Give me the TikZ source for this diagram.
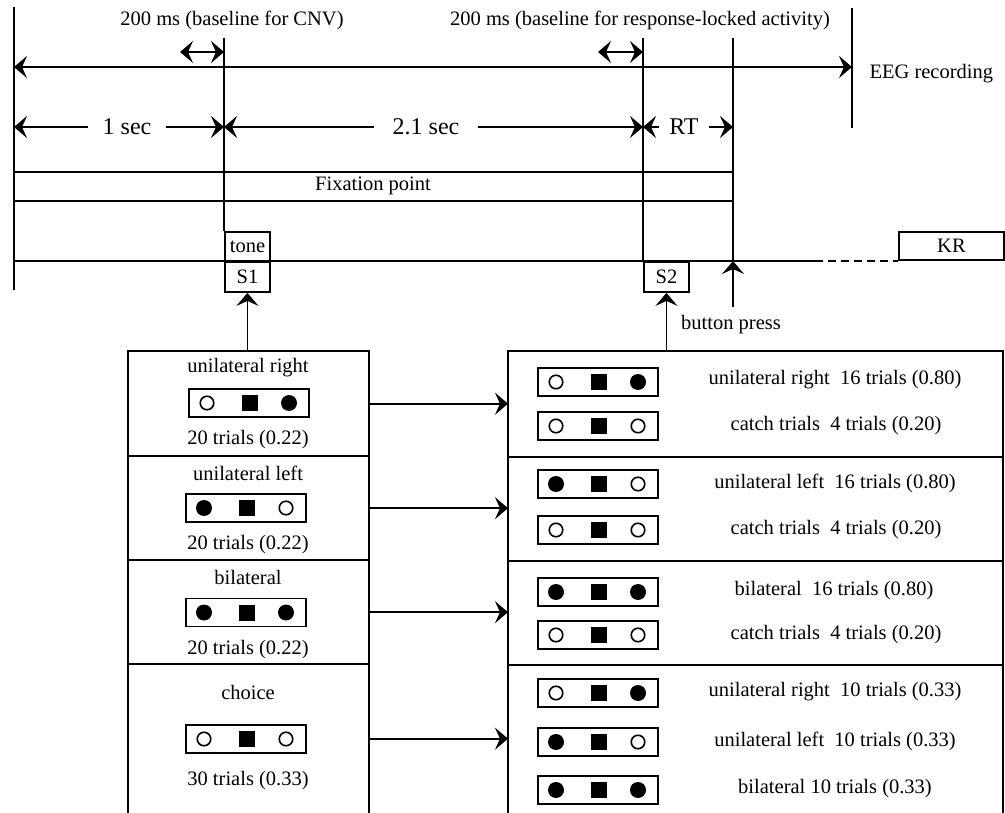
\documentclass[tikz,border=0pt]{standalone}
\usepackage{fontspec}
\setmainfont{Liberation Serif}
\usetikzlibrary{arrows.meta}
\newcommand\stimbox[4]{%
  \node[stim] (#1) at (#2) {};
  \node[#3] (#1-l) at ([xshift=-42pt]#1.center) {};
  \node[sqr] (#1-m) at ([xshift=1pt]#1.center) {};
  \node[#4] (#1-r) at ([xshift=40pt]#1.center) {};}
\begin{document}
\begin{tikzpicture}[x=1pt,y=-1pt,
  every node/.style={font=\fontsize{20.5}{24}\selectfont},
  ln/.style={line width=1.9pt},
  >={Stealth[length=13pt,width=22pt,inset=5pt]},
  tlab/.style={font=\fontsize{24}{28}\selectfont, inner ysep=0pt},
  sbox/.style={draw, ln, minimum width=45pt, minimum height=30pt, inner sep=0pt},
  sec/.style={rectangle, inner sep=0pt, anchor=north west},
  stim/.style={draw, ln, minimum width=120pt, minimum height=28pt, inner sep=0pt},
  op/.style={circle, draw, line width=1.6pt, minimum size=13.5pt, inner sep=0pt},
  fp/.style={circle, fill, minimum size=16pt, inner sep=0pt},
  sqr/.style={rectangle, fill, minimum size=16pt, inner sep=0pt}]
\useasboundingbox (0,0) rectangle (1005,813);

% ---------- time line part ----------
\coordinate (Ltop) at (14,7);   \coordinate (Lbot) at (14,290);
\coordinate (S1top) at (224,38);
\coordinate (S2top) at (643,38);
\coordinate (Rtop) at (733,38); \coordinate (Rbot) at (733,307);
\coordinate (Rline) at (733,261);
\coordinate (Etop) at (852,8);  \coordinate (Ebot) at (852,128);

\draw[ln] (Ltop) -- (Lbot);
\draw[ln] (Etop) -- (Ebot);

\node[sbox, anchor=north west] (tone) at (224,231) {tone};
\node[sbox, anchor=north west] (S1) at (224,261) {S1};
\node[sbox, anchor=north west] (S2) at (643,261) {S2};
\node[sbox, minimum width=105pt, minimum height=28pt, anchor=south west] (KR) at (898,261) {KR};

\draw[ln] (S1top) -- (tone.north west);
\draw[ln] (S2top) -- (S2.north west);
\draw[ln] (Rtop) -- (Rline);
\draw[ln,->] (Rbot) -- (Rline);
\node (bp) at (731,325) {button press};

% main line
\coordinate (Lline) at (14,261);
\coordinate (dashst) at (815,261);
\draw[ln] (Lline) -- (dashst);
\draw[ln, dash pattern=on 8pt off 5pt] (dashst) -- (KR.south west);

% EEG recording
\coordinate (eL) at (14,67); \coordinate (eR) at (852,67);
\draw[ln,<->] (eL) -- (eR);
\node[anchor=west] (eeg) at (866,74) {EEG recording};

% baselines
\coordinate (b1a) at (180,52); \coordinate (b1b) at (224,52);
\coordinate (b2a) at (598,52); \coordinate (b2b) at (643,52);
\draw[ln,<->] (b1a) -- (b1b);
\draw[ln,<->] (b2a) -- (b2b);
\node (t1) at (232,20) {200 ms (baseline for CNV)};
\node (t2) at (640,20) {200 ms (baseline for response-locked activity)};

% durations
\coordinate (dL) at (14,127);  \coordinate (dS1) at (224,127);
\coordinate (dS2) at (643,127); \coordinate (dR) at (733,127);
\node[tlab, inner xsep=14pt] (d1) at (127,127) {1 sec};
\node[tlab, inner xsep=18pt] (d2) at (426,127) {2.1 sec};
\node[tlab, inner xsep=10pt] (d3) at (684,127) {RT};
\draw[ln,<-] (dL) -- (d1);  \draw[ln,->] (d1) -- (dS1);
\draw[ln,<-] (dS1) -- (d2); \draw[ln,->] (d2) -- (dS2);
\draw[ln,<-] (dS2) -- (d3); \draw[ln,->] (d3) -- (dR);

% fixation
\coordinate (f1a) at (14,172); \coordinate (f1b) at (733,172);
\coordinate (f2a) at (14,201); \coordinate (f2b) at (733,201);
\draw[ln] (f1a) -- (f1b);
\draw[ln] (f2a) -- (f2b);
\node (fix) at (373,186) {Fixation point};

% ---------- condition boxes ----------
\node[sec, minimum width=241pt, minimum height=105pt] (L1) at (128,351) {};
\node[sec, minimum width=241pt, minimum height=104pt] (L2) at (128,456) {};
\node[sec, minimum width=241pt, minimum height=104pt] (L3) at (128,560) {};
\node[sec, minimum width=241pt, minimum height=149pt] (L4) at (128,664) {};
\node[sec, minimum width=495pt, minimum height=106pt] (R1) at (508,351) {};
\node[sec, minimum width=495pt, minimum height=104pt] (R2) at (508,457) {};
\node[sec, minimum width=495pt, minimum height=104pt] (R3) at (508,561) {};
\node[sec, minimum width=495pt, minimum height=148pt] (R4) at (508,665) {};

\draw[ln] (L4.south west) -- (L1.north west) -- (L1.north east) -- (L4.south east);
\draw[ln] (L1.south west) -- (L1.south east);
\draw[ln] (L2.south west) -- (L2.south east);
\draw[ln] (L3.south west) -- (L3.south east);
\draw[ln] (R4.south west) -- (R1.north west) -- (R1.north east) -- (R4.south east);
\draw[ln] (R1.south west) -- (R1.south east);
\draw[ln] (R2.south west) -- (R2.south east);
\draw[ln] (R3.south west) -- (R3.south east);

\draw[ln,->] (S1.south |- L1.north) -- (S1.south);
\draw[ln,->] (S2.south |- R1.north) -- (S2.south);

\draw[ln,->] (L1.east) -- (L1.east -| R1.west);
\draw[ln,->] (L2.east) -- (L2.east -| R2.west);
\draw[ln,->] (L3.east) -- (L3.east -| R3.west);
\draw[ln,->] (L4.east) -- (L4.east -| R4.west);

% left contents
\node (l1t) at (248,368) {unilateral right};
\stimbox{ls1}{249,403}{op}{fp}
\node (l1n) at (248,440) {20 trials (0.22)};
\node (l2t) at (248,473) {unilateral left};
\stimbox{ls2}{246,508}{fp}{op}
\node (l2n) at (248,545) {20 trials (0.22)};
\node (l3t) at (248,577) {bilateral};
\stimbox{ls3}{246,612.5}{fp}{fp}
\node (l3n) at (248,650) {20 trials (0.22)};
\node (l4t) at (248,692) {choice};
\stimbox{ls4}{246,739}{op}{op}
\node (l4n) at (248,781) {30 trials (0.33)};

% right contents
\stimbox{rs1a}{598,382}{op}{fp}
\node (r1a) at (835,380) {unilateral right~ 16 trials (0.80)};
\stimbox{rs1b}{598,426}{op}{op}
\node (r1b) at (836,426) {catch trials~ 4 trials (0.20)};
\stimbox{rs2a}{598,484}{fp}{op}
\node (r2a) at (835,483) {unilateral left~ 16 trials (0.80)};
\stimbox{rs2b}{598,530}{op}{op}
\node (r2b) at (836,530) {catch trials~ 4 trials (0.20)};
\stimbox{rs3a}{598,592}{fp}{fp}
\node (r3a) at (834,591) {bilateral~ 16 trials (0.80)};
\stimbox{rs3b}{598,635}{op}{op}
\node (r3b) at (836,635) {catch trials~ 4 trials (0.20)};
\stimbox{rs4a}{598,693}{op}{fp}
\node (r4a) at (835,692) {unilateral right~ 10 trials (0.33)};
\stimbox{rs4b}{598,742}{fp}{op}
\node (r4b) at (835,741) {unilateral left~ 10 trials (0.33)};
\stimbox{rs4c}{598,790}{fp}{fp}
\node (r4c) at (835,789) {bilateral 10 trials (0.33)};
\end{tikzpicture}
\end{document}
